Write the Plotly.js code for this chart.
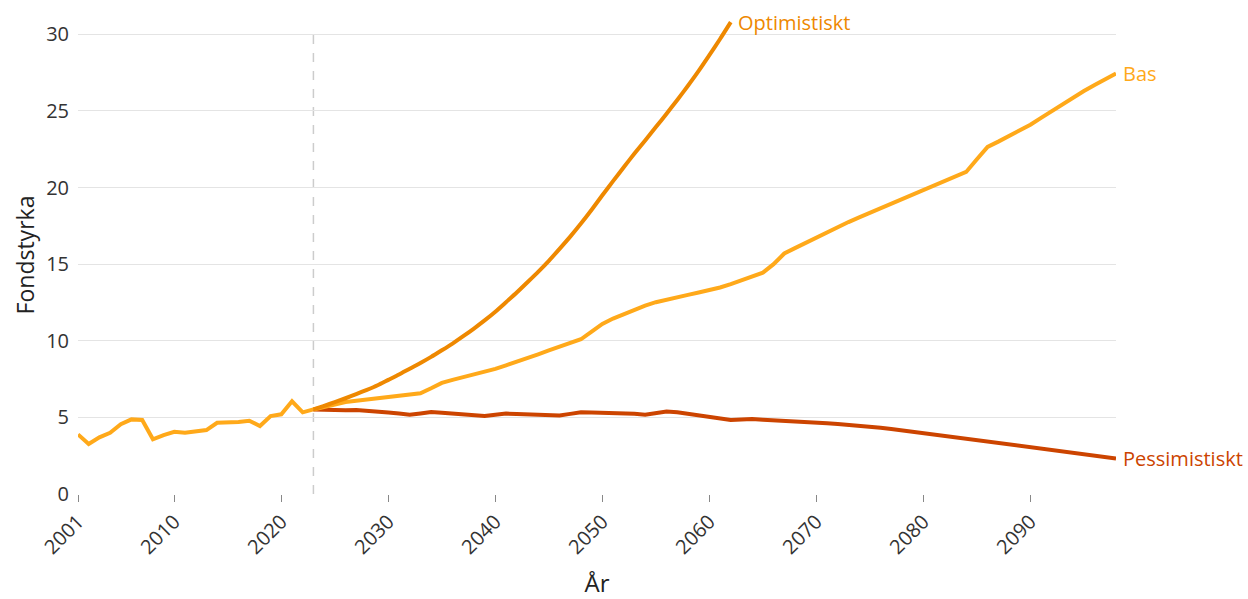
<!DOCTYPE html>
<html>
<head>
<meta charset="utf-8">
<script src="https://cdn.plot.ly/plotly-3.0.1.min.js"></script>
<style>html,body{margin:0;padding:0;background:#fff;}#chart{width:1248px;height:599px;}</style>
</head>
<body>
<div id="chart"></div>
<script>
// Historical fund strength (Fondstyrka), 2001-2023
const histYears = [2001,2002,2003,2004,2005,2006,2007,2008,2009,2010,2011,2012,2013,2014,2015,2016,2017,2018,2019,2020,2021,2022,2023];
const histValues = [3.89,3.26,3.70,4.00,4.55,4.87,4.83,3.57,3.85,4.06,4.00,4.06,4.17,4.65,4.65,4.70,4.78,4.44,5.09,5.20,6.05,5.33,5.52];

// Projection years
const optYears = [];
for (let y = 2023; y <= 2062; y++) optYears.push(y);
const optValues = [5.52,5.75,6.00,6.25,6.52,6.80,7.10,7.45,7.80,8.18,8.55,8.95,9.38,9.82,10.30,10.80,11.33,11.90,12.52,13.15,13.82,14.50,15.22,16.00,16.80,17.65,18.55,19.50,20.42,21.33,22.22,23.08,23.95,24.82,25.72,26.65,27.62,28.65,29.70,30.80];

const projYears = [];
for (let y = 2023; y <= 2098; y++) projYears.push(y);
const basValues = [5.52,5.70,5.85,6.00,6.08,6.17,6.25,6.33,6.40,6.48,6.57,6.90,7.25,7.45,7.62,7.80,7.98,8.17,8.40,8.62,8.87,9.12,9.37,9.62,9.87,10.10,10.60,11.10,11.45,11.75,12.05,12.30,12.52,12.70,12.85,13.00,13.15,13.30,13.48,13.70,13.95,14.20,14.45,15.00,15.70,16.05,16.40,16.75,17.10,17.42,17.75,18.05,18.35,18.65,18.93,19.22,19.52,19.82,20.12,20.42,20.72,21.02,21.85,22.66,23.00,23.35,23.72,24.10,24.55,25.00,25.45,25.90,26.30,26.70,27.10,27.45];
const pessValues = [5.52,5.48,5.45,5.46,5.48,5.44,5.38,5.32,5.25,5.17,5.26,5.35,5.30,5.25,5.20,5.15,5.10,5.18,5.25,5.22,5.20,5.18,5.15,5.13,5.23,5.33,5.32,5.31,5.30,5.28,5.23,5.17,5.28,5.39,5.33,5.24,5.15,5.03,4.92,4.83,4.86,4.90,4.85,4.80,4.76,4.72,4.68,4.65,4.61,4.57,4.52,4.46,4.40,4.33,4.25,4.16,4.07,3.98,3.89,3.80,3.71,3.62,3.52,3.42,3.32,3.22,3.13,3.07,2.97,2.88,2.79,2.70,2.61,2.52,2.42,2.32];

const xTicks = [2001,2010,2020,2030,2040,2050,2060,2070,2080,2090];
const yTicks = [0,5,10,15,20,25,30];
const forecastStart = 2023;

const cBas = '#FFA91A', cOpt = '#EE8800', cPess = '#CC4400';
const font = "'Open Sans', 'Noto Sans', sans-serif";

const traces = [
  {x: histYears, y: histValues, mode: 'lines', line: {color: cBas, width: 4}, hoverinfo: 'skip'},
  {x: projYears, y: pessValues, mode: 'lines', line: {color: cPess, width: 4}},
  {x: projYears, y: basValues, mode: 'lines', line: {color: cBas, width: 4}},
  {x: optYears, y: optValues, mode: 'lines', line: {color: cOpt, width: 4, shape: 'spline', smoothing: 0.6}}
];

const layout = {
  width: 1248, height: 599,
  margin: {l: 78, r: 132, t: 15.6, b: 105},
  paper_bgcolor: '#fff', plot_bgcolor: '#fff',
  showlegend: false,
  font: {family: font, color: '#333', size: 20},
  xaxis: {
    range: [2001, 2098],
    tickvals: xTicks,
    tickangle: -45,
    ticks: 'outside', ticklen: 7, tickcolor: '#888', tickwidth: 1,
    showgrid: false, zeroline: false, showline: false,
    tickfont: {size: 20, color: '#333'},
    title: {text: 'År', font: {size: 24, color: '#222'}, standoff: 22}
  },
  yaxis: {
    range: [0, 31.2],
    tickvals: yTicks,
    showgrid: true, gridcolor: '#e4e4e4', gridwidth: 1,
    zeroline: false, showline: false,
    ticks: '', ticklabelstandoff: 8,
    tickfont: {size: 20, color: '#333'},
    title: {text: 'Fondstyrka', font: {size: 23, color: '#222'}, standoff: 5}
  },
  shapes: [
    {type: 'line', xref: 'x', yref: 'y', x0: forecastStart, x1: forecastStart, y0: 0, y1: 30,
     line: {color: '#cccccc', width: 1.5, dash: 'dash'}, layer: 'below'}
  ],
  annotations: [
    {x: optYears[optYears.length-1], y: optValues[optValues.length-1], xref: 'x', yref: 'y', text: 'Optimistiskt',
     showarrow: false, xanchor: 'left', yanchor: 'middle', xshift: 5, font: {size: 20, color: cOpt}},
    {x: projYears[projYears.length-1], y: basValues[basValues.length-1], xref: 'x', yref: 'y', text: 'Bas',
     showarrow: false, xanchor: 'left', yanchor: 'middle', xshift: 5, font: {size: 20, color: cBas}},
    {x: projYears[projYears.length-1], y: pessValues[pessValues.length-1], xref: 'x', yref: 'y', text: 'Pessimistiskt',
     showarrow: false, xanchor: 'left', yanchor: 'middle', xshift: 5, font: {size: 20, color: cPess}}
  ]
};

Plotly.newPlot('chart', traces, layout, {displayModeBar: false, staticPlot: true});
</script>
</body>
</html>
